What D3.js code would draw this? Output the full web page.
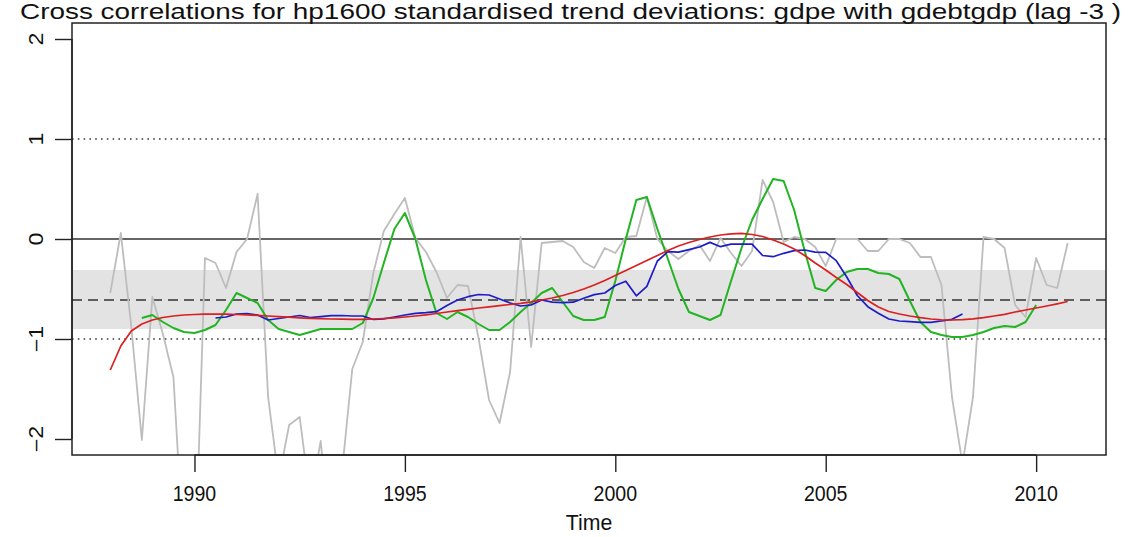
<!DOCTYPE html>
<html>
<head>
<meta charset="utf-8">
<script src="https://cdn.jsdelivr.net/npm/d3@7"></script>
<style>
  html, body { margin: 0; padding: 0; background: #ffffff; }
  svg { display: block; }
  text { font-family: "Liberation Sans", Arial, Helvetica, sans-serif; fill: #111; }
</style>
</head>
<body>
<svg id="chart" width="1147" height="537"></svg>
<script>
// ---- chart text ----
const titleText = "Cross correlations for hp1600 standardised trend deviations: gdpe with gdebtgdp (lag -3 )";
const xLabel = "Time";
const xTicks = [1990, 1995, 2000, 2005, 2010];
const yTicks = [-2, -1, 0, 1, 2];
const yLimits = [-2, 2];

// ---- quarterly series (first value at the given start year, step 0.25) ----
const rawStart = 1988.0;
const rawCorr = [
  -0.54, 0.06, -0.88, -2.01, -0.58, -0.95, -1.38, -3.2, -3.5, -0.19,
  -0.24, -0.49, -0.13, 0.0, 0.45, -1.58, -2.4, -1.86, -1.78, -2.6,
  -2.02, -3.15, -2.35, -1.3, -1.03, -0.34, 0.08, 0.25, 0.41, 0.01,
  -0.13, -0.33, -0.59, -0.46, -0.47, -0.99, -1.61, -1.84, -1.33, 0.02,
  -1.08, -0.04, -0.03, -0.02, -0.08, -0.23, -0.29, -0.09, -0.14, 0.02,
  0.03, 0.42, 0.0, -0.12, -0.2, -0.12, -0.06, -0.22, 0.01, -0.14,
  -0.27, -0.12, 0.59, 0.37, -0.03, 0.02, 0.0, -0.08, -0.27, 0.0,
  0.0, 0.0, -0.12, -0.12, 0.0, 0.0, -0.04, -0.18, -0.18, -0.46,
  -1.58, -2.25, -1.58, 0.02, 0.0, -0.09, -0.66, -0.78, -0.19, -0.46,
  -0.49, -0.04
];

const smoothStart = 1988.75;
const smoothCorr = [
  -0.79, -0.76, -0.83, -0.89, -0.93, -0.94, -0.91, -0.86, -0.71, -0.54,
  -0.59, -0.64, -0.81, -0.90, -0.93, -0.96, -0.93, -0.90, -0.90, -0.90,
  -0.90, -0.84, -0.59, -0.24, 0.10, 0.26, 0.0, -0.41, -0.74, -0.80,
  -0.73, -0.78, -0.85, -0.91, -0.91, -0.83, -0.73, -0.64, -0.54, -0.49,
  -0.63, -0.77, -0.81, -0.81, -0.78, -0.42, 0.0, 0.39, 0.42, 0.10,
  -0.20, -0.50, -0.73, -0.77, -0.81, -0.76, -0.42, -0.09, 0.19, 0.40,
  0.60, 0.58, 0.29, -0.12, -0.49, -0.52, -0.41, -0.33, -0.30, -0.30,
  -0.34, -0.35, -0.40, -0.62, -0.83, -0.93, -0.96, -0.98, -0.98, -0.96,
  -0.93, -0.89, -0.87, -0.88, -0.83, -0.66
];

const rollStart = 1990.5;
const rollCorr = [
  -0.79, -0.78, -0.75, -0.745, -0.76, -0.81, -0.795, -0.78, -0.765, -0.785,
  -0.777, -0.767, -0.765, -0.77, -0.77, -0.805, -0.798, -0.78, -0.76, -0.743,
  -0.737, -0.727, -0.665, -0.61, -0.577, -0.555, -0.56, -0.60, -0.64, -0.67,
  -0.66, -0.61, -0.632, -0.637, -0.632, -0.593, -0.556, -0.54, -0.465, -0.422,
  -0.568, -0.474, -0.22, -0.127, -0.132, -0.106, -0.08, -0.034, -0.077, -0.052,
  -0.052, -0.052, -0.165, -0.177, -0.143, -0.117, -0.11, -0.132, -0.133, -0.217,
  -0.38, -0.565, -0.677, -0.743, -0.80, -0.82, -0.827, -0.833, -0.833, -0.82,
  -0.803, -0.75
];

const trendStart = 1988.0;
const trendCorr = [
  -1.31, -1.07, -0.92, -0.85, -0.81, -0.785, -0.77, -0.76, -0.755, -0.752,
  -0.751, -0.752, -0.755, -0.759, -0.764, -0.77, -0.776, -0.782, -0.788, -0.793,
  -0.797, -0.80, -0.802, -0.803, -0.803, -0.80, -0.795, -0.788, -0.78, -0.77,
  -0.758, -0.745, -0.73, -0.716, -0.703, -0.69, -0.678, -0.667, -0.655, -0.643,
  -0.628, -0.61, -0.59, -0.565, -0.535, -0.50, -0.46, -0.415, -0.365, -0.315,
  -0.265, -0.215, -0.165, -0.115, -0.07, -0.035, -0.005, 0.02, 0.04, 0.052,
  0.056, 0.045, 0.025, -0.01, -0.05, -0.10, -0.165, -0.24, -0.31, -0.385,
  -0.455, -0.535, -0.615, -0.68, -0.725, -0.75, -0.77, -0.787, -0.80, -0.808,
  -0.81, -0.806, -0.798, -0.787, -0.77, -0.753, -0.73, -0.71, -0.69, -0.67,
  -0.648, -0.625
];

// ---- reference levels ----
const meanLevel = -0.61;
const bandLevels = [-0.90, -0.31];
const boundLevels = [1, -1];
const zeroLevel = 0;

// ---- helpers ----
const toPoints = (start, vals) => vals.map((v, i) => ({ t: start + i * 0.25, v }));
const rawPts = toPoints(rawStart, rawCorr);
const smoothPts = toPoints(smoothStart, smoothCorr);
const rollPts = toPoints(rollStart, rollCorr);
const trendPts = toPoints(trendStart, trendCorr);

// plot region
const plot = { left: 72, right: 1106, top: 23, bottom: 455 };

// axis ranges padded by 4% on each side
const tExt = d3.extent(rawPts, d => d.t);
const tPad = (tExt[1] - tExt[0]) * 0.04;
const yPad = (yLimits[1] - yLimits[0]) * 0.04;

const x = d3.scaleLinear().domain([tExt[0] - tPad, tExt[1] + tPad]).range([plot.left, plot.right]);
const y = d3.scaleLinear().domain([yLimits[0] - yPad, yLimits[1] + yPad]).range([plot.bottom, plot.top]);

const svg = d3.select("#chart");

svg.append("defs").append("clipPath").attr("id", "plotClip")
  .append("rect")
  .attr("x", plot.left).attr("y", plot.top)
  .attr("width", plot.right - plot.left).attr("height", plot.bottom - plot.top);

const inner = svg.append("g").attr("clip-path", "url(#plotClip)");

// shaded band around the mean level
inner.append("rect")
  .attr("x", plot.left)
  .attr("width", plot.right - plot.left)
  .attr("y", y(bandLevels[1]))
  .attr("height", y(bandLevels[0]) - y(bandLevels[1]))
  .attr("fill", "#e3e3e3");

// dotted bounds at +/-1
inner.selectAll("line.bound").data(boundLevels).join("line")
  .attr("class", "bound")
  .attr("x1", plot.left).attr("x2", plot.right)
  .attr("y1", d => y(d)).attr("y2", d => y(d))
  .attr("stroke", "#3a3a3a").attr("stroke-width", 1.3)
  .attr("stroke-dasharray", "1.6,4.2");

// zero line
inner.append("line")
  .attr("x1", plot.left).attr("x2", plot.right)
  .attr("y1", y(zeroLevel)).attr("y2", y(zeroLevel))
  .attr("stroke", "#333").attr("stroke-width", 1.4);

// dashed mean line
inner.append("line")
  .attr("x1", plot.left).attr("x2", plot.right)
  .attr("y1", y(meanLevel)).attr("y2", y(meanLevel))
  .attr("stroke", "#333").attr("stroke-width", 1.4)
  .attr("stroke-dasharray", "10,6");

const line = d3.line().x(d => x(d.t)).y(d => y(d.v));

inner.append("path").datum(rawPts)
  .attr("d", line).attr("fill", "none")
  .attr("stroke", "#bdbdbd").attr("stroke-width", 1.8).attr("stroke-linejoin", "round");

inner.append("path").datum(smoothPts)
  .attr("d", line).attr("fill", "none")
  .attr("stroke", "#22b422").attr("stroke-width", 2).attr("stroke-linejoin", "round");

inner.append("path").datum(rollPts)
  .attr("d", line).attr("fill", "none")
  .attr("stroke", "#1c1cc8").attr("stroke-width", 1.7).attr("stroke-linejoin", "round");

inner.append("path").datum(trendPts)
  .attr("d", line).attr("fill", "none")
  .attr("stroke", "#dc1f1f").attr("stroke-width", 1.7).attr("stroke-linejoin", "round");

// axes: lines and ticks from d3, labels drawn separately so they can be stretched
const xAxis = d3.axisBottom(x).tickValues(xTicks).tickSize(17).tickFormat("");
const gx = svg.append("g").attr("transform", `translate(0,${plot.bottom})`).call(xAxis);
gx.select(".domain").attr("d", `M${x(xTicks[0])},0H${x(xTicks[xTicks.length - 1])}`)
  .attr("stroke", "#222").attr("stroke-width", 1.4);
gx.selectAll(".tick line").attr("stroke", "#222").attr("stroke-width", 1.4);

svg.append("g").selectAll("text").data(xTicks).join("text")
  .attr("transform", d => `translate(${x(d)},501) scale(1.03,1.18)`)
  .attr("text-anchor", "middle")
  .attr("font-size", 19)
  .text(d3.format("d"));

const yAxis = d3.axisLeft(y).tickValues(yTicks).tickSize(17).tickFormat("");
const gy = svg.append("g").attr("transform", `translate(${plot.left},0)`).call(yAxis);
gy.select(".domain").attr("d", `M0,${y(yTicks[0])}V${y(yTicks[yTicks.length - 1])}`)
  .attr("stroke", "#222").attr("stroke-width", 1.4);
gy.selectAll(".tick line").attr("stroke", "#222").attr("stroke-width", 1.4);

svg.append("g").selectAll("text").data(yTicks).join("text")
  .attr("transform", d => `translate(43,${y(d)}) rotate(-90) scale(1.22,1.02)`)
  .attr("text-anchor", "middle")
  .attr("font-size", 19)
  .text(d3.format("d"));

// frame
svg.append("rect")
  .attr("x", plot.left).attr("y", plot.top)
  .attr("width", plot.right - plot.left).attr("height", plot.bottom - plot.top)
  .attr("fill", "none").attr("stroke", "#222").attr("stroke-width", 1.5);

// title and axis label
svg.append("g").attr("transform", "translate(20,19) scale(1,1.15)")
  .append("text")
  .attr("x", 0).attr("y", 0)
  .attr("font-size", 19)
  .attr("textLength", 1101).attr("lengthAdjust", "spacingAndGlyphs")
  .text(titleText);

svg.append("text")
  .attr("transform", `translate(${(plot.left + plot.right) / 2},530) scale(1.12,1.18)`)
  .attr("text-anchor", "middle").attr("font-size", 19)
  .text(xLabel);
</script>
</body>
</html>
